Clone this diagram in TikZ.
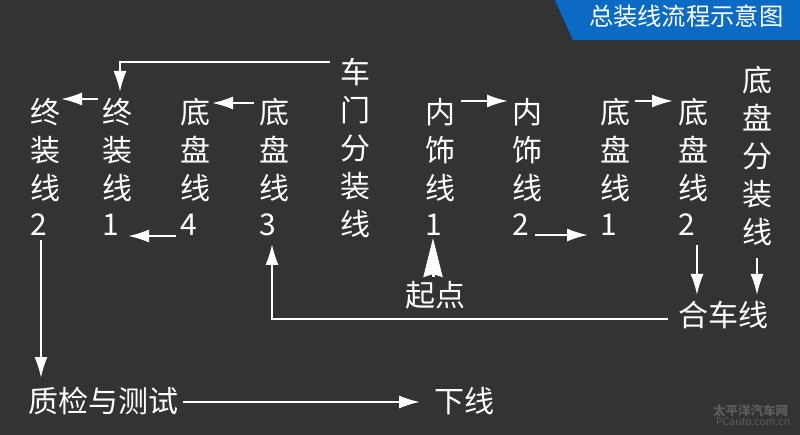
\documentclass[tikz,border=0pt]{standalone}
\usepackage{fontspec}
\setmainfont{Noto Sans CJK SC}
\usetikzlibrary{arrows.meta}
\usetikzlibrary{calc}
\definecolor{bgdark}{HTML}{333333}
\definecolor{bannerblue}{HTML}{0B6BC4}
\definecolor{markgray}{HTML}{5E5E5E}
\tikzset{
	lbl/.style={text=white, inner sep=0pt, outer sep=0pt, anchor=north west, align=left, font=\fontsize{30}{38}\selectfont},
	arr/.style={color=white, line width=2pt, -{Latex[length=21pt,width=13pt]}},
	arrbig/.style={color=white, line width=3pt, -{Stealth[length=39pt,width=19pt,inset=3pt]}}
}
\begin{document}
\begin{tikzpicture}[x=1pt,y=-1pt]
	\fill[bgdark] (0,0) rectangle (800,435);
	\useasboundingbox (0,0) rectangle (800,435);
	\fill[bannerblue] (555,0) -- (573,40) -- (800,40) -- (800,0) -- cycle;
	\node[lbl, font=\fontsize{24.3}{28}\selectfont] (title) at (589,5) {总装线流程示意图};
	% columns of the line
	\node[lbl] (zz2) at (30,98) {终\\装\\线\\[-2pt]2};
	\node[lbl] (zz1) at (102,98) {终\\装\\线\\[-2pt]1};
	\node[lbl] (dp4) at (180,98) {底\\盘\\线\\[-2pt]4};
	\node[lbl] (dp3) at (259,98) {底\\盘\\线\\[-2pt]3};
	\node[lbl] (men) at (340,58) {车\\门\\分\\装\\线};
	\node[lbl] (ns1) at (425,98) {内\\饰\\线\\[-2pt]1};
	\node[lbl] (ns2) at (512,98) {内\\饰\\线\\[-2pt]2};
	\node[lbl] (dp1) at (600,98) {底\\盘\\线\\[-2pt]1};
	\node[lbl] (dp2) at (678,98) {底\\盘\\线\\[-2pt]2};
	\node[lbl] (dpf) at (742,66) {底\\盘\\分\\装\\线};
	\node[lbl] (qd) at (405,281) {起点};
	\node[lbl] (hc) at (678,301) {合车线};
	\node[lbl] (zj) at (28,387) {质检与测试};
	\node[lbl] (xx) at (434,387) {下线};
	\node[lbl, text=markgray, font=\bfseries\fontsize{12.5}{14}\selectfont] (wm1) at (713,405) {太平洋汽车网};
	\node[lbl, text=markgray, font=\fontsize{10.5}{12}\selectfont] (wm2) at (716,418) {PCauto.com.cn};
	% connectors
	\draw[arr] ([shift={(-10,4.5)}]men.north west) -| ([shift={(18,-6)}]zz1.north west);
	\draw[arr] ([shift={(-10,18.5)}]hc.north west) -| ([shift={(13,146)}]dp3.north west);
	\path[arr]
	([shift={(-4,1)}]zz1.north west) edge ([shift={(31,1)}]zz2.north west)
	([shift={(-5,5)}]dp3.north west) edge ([shift={(32,5)}]dp4.north west)
	([shift={(-4,138)}]dp4.north west) edge ([shift={(26,138)}]zz1.north west)
	([shift={(36,3)}]ns1.north west) edge ([shift={(-4,3)}]ns2.north west)
	([shift={(35,3)}]dp1.north west) edge ([shift={(-5,3)}]dp2.north west)
	([shift={(23,137)}]ns2.north west) edge ([shift={(-12,137)}]dp1.north west)
	([shift={(19,147)}]dp2.north west) edge ([shift={(19,-6)}]hc.north west)
	([shift={(15,192)}]dpf.north west) edge ([shift={(79,-6)}]hc.north west)
	([shift={(11,142)}]zz2.north west) edge ([shift={(13,-9)}]zj.north west)
	([shift={(5,15)}]zj.north east) edge ([shift={(-14,15)}]xx.north west);
	\path[arrbig]
	([shift={(28,-4)}]qd.north west) edge ([shift={(8,140)}]ns1.north west);
\end{tikzpicture}
\end{document}
